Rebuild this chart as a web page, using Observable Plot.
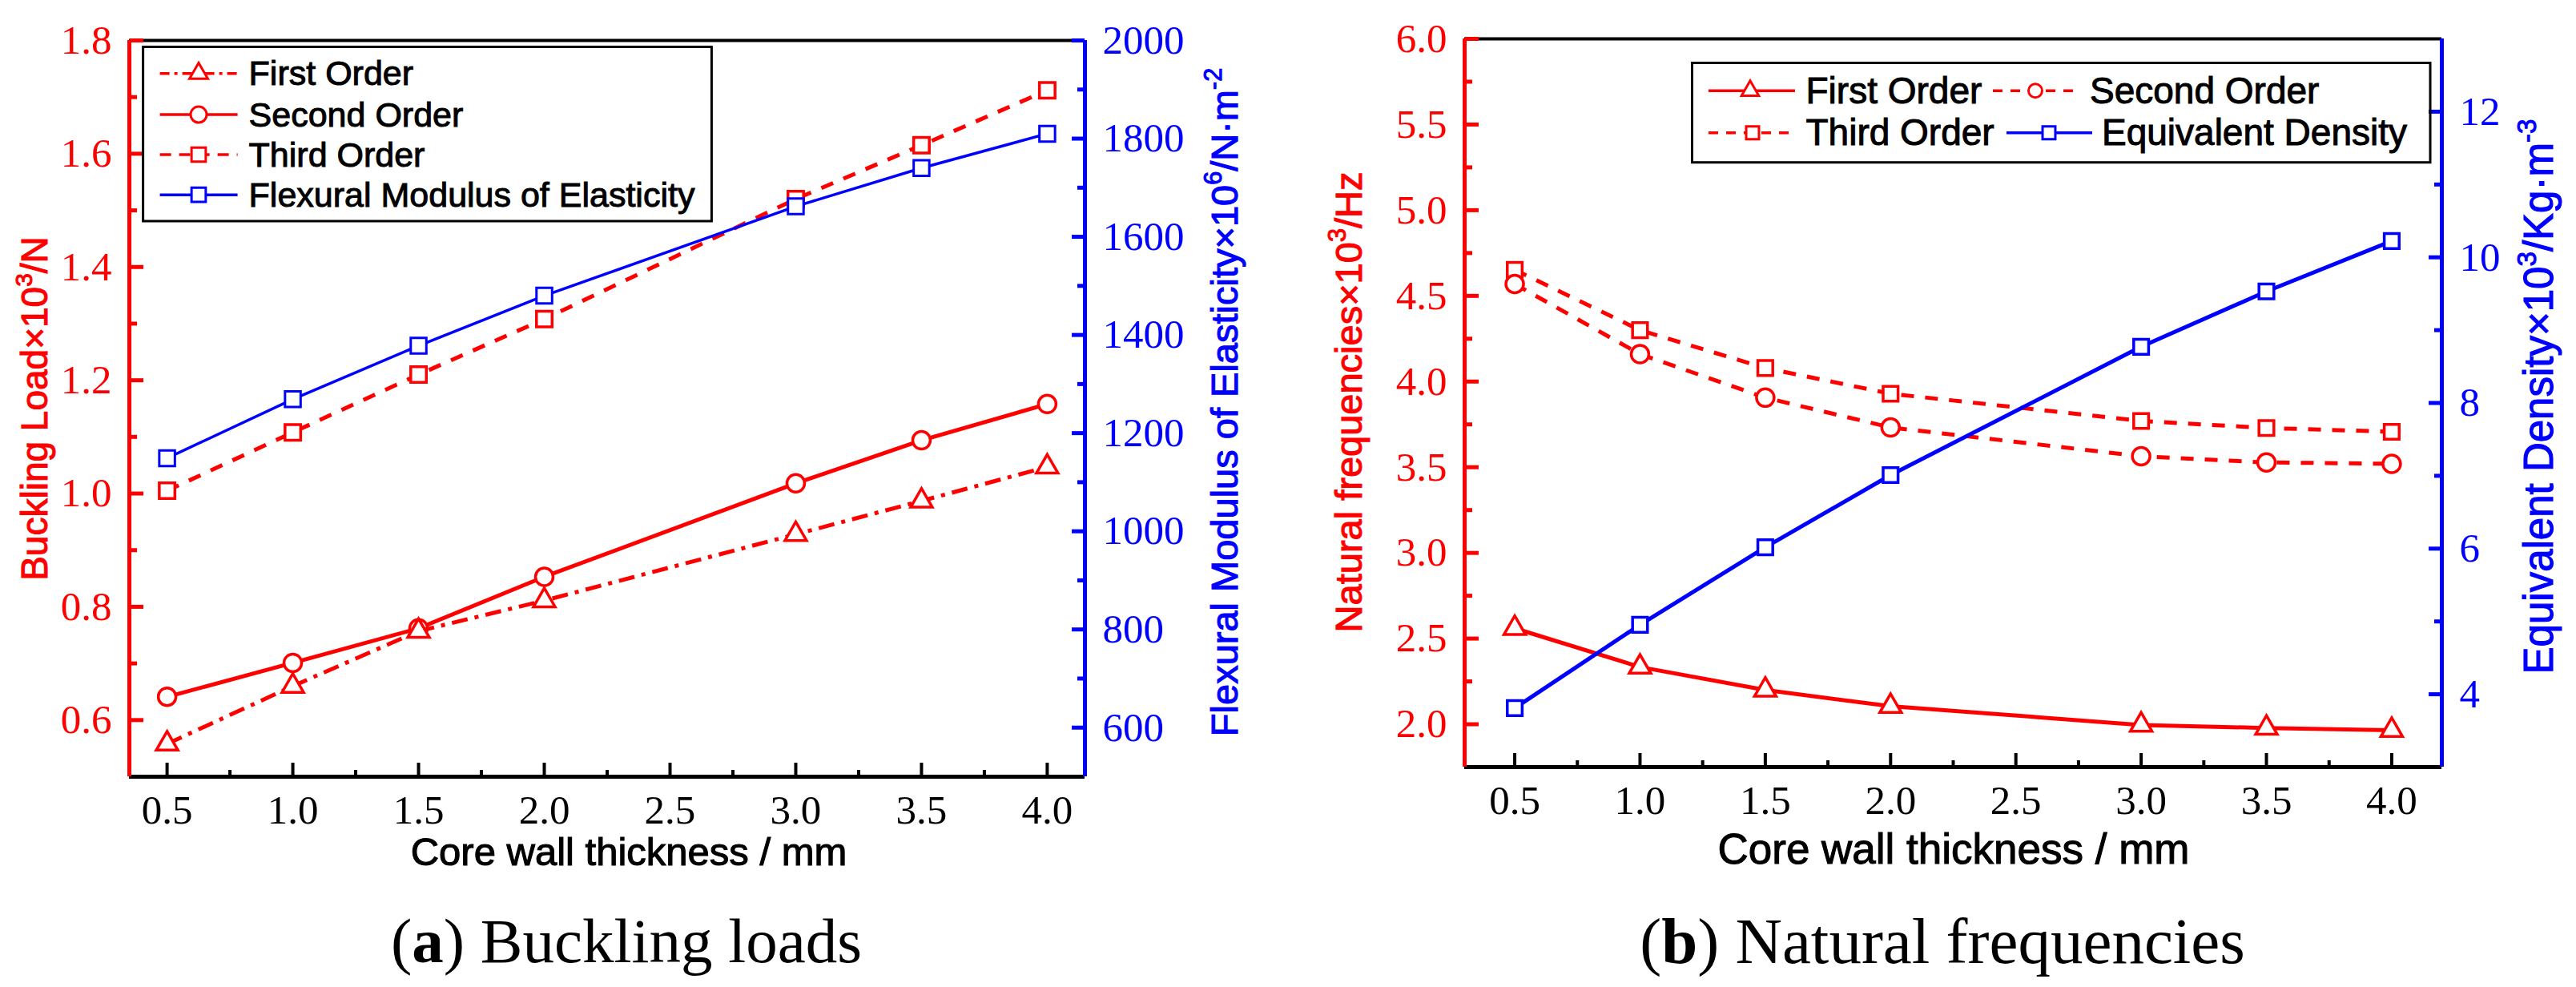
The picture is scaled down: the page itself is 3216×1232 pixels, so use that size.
<!DOCTYPE html>
<html>
<head>
<meta charset="utf-8">
<script src="https://cdn.jsdelivr.net/npm/d3@7"></script>
<script src="https://cdn.jsdelivr.net/npm/@observablehq/plot@0.6"></script>
<style>
  html, body { margin: 0; padding: 0; background: #fff; }
  #root { position: relative; width: 3216px; height: 1232px; overflow: hidden; background: #fff; }
  #root > svg { position: absolute; top: 0; }
</style>
</head>
<body>
<div id="root"></div>
<script>
// ---------------- DATA ----------------
const thickness = [0.5, 1.0, 1.5, 2.0, 3.0, 3.5, 4.0];

// (a) Buckling loads (x10^3 N) and flexural modulus (x10^6 N/m^2)
const bucklingFirst  = [0.558, 0.660, 0.757, 0.811, 0.928, 0.987, 1.047];
const bucklingSecond = [0.641, 0.701, 0.762, 0.853, 1.018, 1.094, 1.158];
const bucklingThird  = [1.005, 1.108, 1.210, 1.308, 1.520, 1.615, 1.712];
const flexuralModulus = [1149, 1269, 1378, 1480, 1662, 1740, 1810];

// (b) Natural frequencies (x10^3 Hz) and equivalent density (x10^3 kg/m^3)
const freqFirst  = [2.560, 2.334, 2.200, 2.105, 1.996, 1.978, 1.965];
const freqSecond = [4.569, 4.160, 3.906, 3.732, 3.564, 3.528, 3.520];
const freqThird  = [4.652, 4.300, 4.079, 3.929, 3.770, 3.729, 3.707];
const equivDensity = [3.81, 4.954, 6.018, 7.010, 8.772, 9.532, 10.224];

// ticks
const xTicks = [0.5, 1.0, 1.5, 2.0, 2.5, 3.0, 3.5, 4.0];
const xMinorTicks = [0.75, 1.25, 1.75, 2.25, 2.75, 3.25, 3.75];
const loadTicks = [0.6, 0.8, 1.0, 1.2, 1.4, 1.6, 1.8];
const loadMinorTicks = [0.7, 0.9, 1.1, 1.3, 1.5, 1.7];
const modulusTicks = [600, 800, 1000, 1200, 1400, 1600, 1800, 2000];
const modulusMinorTicks = [700, 900, 1100, 1300, 1500, 1700, 1900];
const freqTicks = [2.0, 2.5, 3.0, 3.5, 4.0, 4.5, 5.0, 5.5, 6.0];
const freqMinorTicks = [2.25, 2.75, 3.25, 3.75, 4.25, 4.75, 5.25, 5.75];
const densityTicks = [4, 6, 8, 10, 12];
const densityMinorTicks = [5, 7, 9, 11];

// axis domains
const xDomainA = [0.35, 4.15];
const loadDomain = [0.5, 1.8];
const modulusDomain = [500, 2000];
const xDomainB = [0.3, 4.2];
const freqDomain = [1.75, 6.0];
const densityDomain = [3, 13];

// ---------------- STYLE / LAYOUT ----------------
const RED = "#ff0000", BLUE = "#0000ff";
const W = 1608, H = 1100;
const SERIF = "'Liberation Serif', 'Times New Roman', serif";
const SANS = "'Liberation Sans', Arial, sans-serif";
const DASH = "16,14";
const DASHDOT = "20,9,5,9";
const layoutA = {left: 0, marginLeft: 161, marginRight: 254, marginTop: 50, marginBottom: 131};
const layoutB = {left: 1608, marginLeft: 220, marginRight: 168, marginTop: 48, marginBottom: 143};
const baseStyle = {fontFamily: SERIF, fontSize: "51px", background: "transparent", color: "black", overflow: "visible"};

const rowsA = thickness.map((t, i) => ({t, first: bucklingFirst[i], second: bucklingSecond[i], third: bucklingThird[i], modulus: flexuralModulus[i]}));
const rowsB = thickness.map((t, i) => ({t, first: freqFirst[i], second: freqSecond[i], third: freqThird[i], density: equivDensity[i]}));

function seriesMarks(rows, key, {color, dash, width, symbol, r, markerWidth}) {
  return [
    Plot.line(rows, {x: "t", y: key, stroke: color, strokeWidth: width, strokeDasharray: dash, strokeLinecap: "butt"}),
    Plot.dot(rows, {x: "t", y: key, symbol, r, stroke: color, fill: "white", strokeWidth: markerWidth})
  ];
}

function leftPlot(layout, xDomain, yDomain, yTicks, yMinor, yFormat, series) {
  return Plot.plot({
    width: W, height: H,
    marginLeft: layout.marginLeft, marginRight: layout.marginRight,
    marginTop: layout.marginTop, marginBottom: layout.marginBottom,
    x: {domain: xDomain},
    y: {domain: yDomain},
    style: baseStyle,
    marks: [
      Plot.ruleY([yDomain[1]], {stroke: "black", strokeWidth: 4}),
      Plot.axisX({ticks: xTicks, anchor: "top", frameAnchor: "bottom", tickSize: 18, fill: "none", stroke: "black", strokeWidth: 4, label: null}),
      Plot.axisX({ticks: xMinorTicks, anchor: "top", frameAnchor: "bottom", tickSize: 9, fill: "none", stroke: "black", strokeWidth: 4, label: null}),
      Plot.axisX({ticks: xTicks, anchor: "bottom", tickSize: 0, tickPadding: 22, tickFormat: d3.format(".1f"), fill: "black", stroke: "none", label: null}),
      Plot.ruleY([yDomain[0]], {stroke: "black", strokeWidth: 5}),
      Plot.axisY({ticks: yTicks, anchor: "right", frameAnchor: "left", tickSize: 17, fill: "none", stroke: RED, strokeWidth: 5, label: null}),
      Plot.axisY({ticks: yMinor, anchor: "right", frameAnchor: "left", tickSize: 9, fill: "none", stroke: RED, strokeWidth: 5, label: null}),
      Plot.axisY({ticks: yTicks, anchor: "left", tickSize: 0, tickPadding: 22, tickFormat: yFormat, fill: RED, stroke: "none", label: null}),
      Plot.ruleX([xDomain[0]], {stroke: RED, strokeWidth: 5}),
      ...series
    ]
  });
}

function rightPlot(layout, xDomain, yDomain, yTicks, yMinor, yFormat, series) {
  return Plot.plot({
    width: W, height: H,
    marginLeft: layout.marginLeft, marginRight: layout.marginRight,
    marginTop: layout.marginTop, marginBottom: layout.marginBottom,
    x: {domain: xDomain, axis: null},
    y: {domain: yDomain},
    style: baseStyle,
    marks: [
      Plot.ruleX([xDomain[1]], {stroke: BLUE, strokeWidth: 5}),
      Plot.axisY({ticks: yTicks, anchor: "left", frameAnchor: "right", tickSize: 16, fill: "none", stroke: BLUE, strokeWidth: 5, label: null}),
      Plot.axisY({ticks: yMinor, anchor: "left", frameAnchor: "right", tickSize: 9, fill: "none", stroke: BLUE, strokeWidth: 5, label: null}),
      Plot.axisY({ticks: yTicks, anchor: "right", tickSize: 0, tickPadding: 22, tickFormat: yFormat, fill: BLUE, stroke: "none", label: null}),
      ...series
    ]
  });
}

const root = document.getElementById("root");
function place(svg, left) { svg.style.left = left + "px"; svg.style.top = "0px"; root.append(svg); }

// Panel (a)
place(leftPlot(layoutA, xDomainA, loadDomain, loadTicks, loadMinorTicks, d3.format(".1f"), [
  ...seriesMarks(rowsA, "third",  {color: RED, dash: DASH, width: 5, symbol: "square", r: 11, markerWidth: 3.5}),
  ...seriesMarks(rowsA, "second", {color: RED, dash: null, width: 5, symbol: "circle", r: 11, markerWidth: 3.5}),
  ...seriesMarks(rowsA, "first",  {color: RED, dash: DASHDOT, width: 5, symbol: "triangle", r: 10, markerWidth: 3.5})
]), layoutA.left);
place(rightPlot(layoutA, xDomainA, modulusDomain, modulusTicks, modulusMinorTicks, d3.format("d"), [
  ...seriesMarks(rowsA, "modulus", {color: BLUE, dash: null, width: 3.5, symbol: "square", r: 11, markerWidth: 3})
]), layoutA.left);

// Panel (b)
place(leftPlot(layoutB, xDomainB, freqDomain, freqTicks, freqMinorTicks, d3.format(".1f"), [
  ...seriesMarks(rowsB, "third",  {color: RED, dash: DASH, width: 5, symbol: "square", r: 10.5, markerWidth: 3.5}),
  ...seriesMarks(rowsB, "second", {color: RED, dash: DASH, width: 5, symbol: "circle", r: 11, markerWidth: 3.5}),
  ...seriesMarks(rowsB, "first",  {color: RED, dash: null, width: 5, symbol: "triangle", r: 10, markerWidth: 3.5})
]), layoutB.left);
place(rightPlot(layoutB, xDomainB, densityDomain, densityTicks, densityMinorTicks, d3.format("d"), [
  ...seriesMarks(rowsB, "density", {color: BLUE, dash: null, width: 5, symbol: "square", r: 10.5, markerWidth: 3.5})
]), layoutB.left);

// ---------------- TEXT & LEGENDS OVERLAY ----------------
const over = d3.create("svg").attr("width", 3216).attr("height", 1232)
  .style("left", "0px").style("top", "0px").style("pointer-events", "none");

function richText(parent, parts, {x, y, rotate = 0, size, color = "black", family = SANS, anchor = "middle", heavy = 1.1}) {
  const t = parent.append("text")
    .attr("transform", `translate(${x},${y}) rotate(${rotate})`)
    .attr("text-anchor", anchor)
    .attr("font-family", family)
    .attr("font-size", size)
    .attr("fill", color)
    .attr("stroke", heavy ? color : "none")
    .attr("stroke-width", heavy);
  let shift = 0;
  for (const p of parts) {
    const s = t.append("tspan").text(p.t);
    if (p.sup) {
      s.attr("font-size", size * 0.65).attr("dy", -size * 0.42 - shift);
      shift = -size * 0.42;
    } else {
      s.attr("font-size", size);
      if (shift) { s.attr("dy", -shift); shift = 0; }
    }
    if (p.bold) s.attr("font-weight", "bold");
  }
  return t;
}

// axis titles
richText(over, [{t: "Buckling Load×10"}, {t: "3", sup: true}, {t: "/N"}], {x: 59, y: 510, rotate: -90, size: 46, color: RED});
richText(over, [{t: "Flexural Modulus of Elasticity×10"}, {t: "6", sup: true}, {t: "/N·m"}, {t: "-2", sup: true}], {x: 1545, y: 502, rotate: -90, size: 47, color: BLUE});
richText(over, [{t: "Natural frequencies×10"}, {t: "3", sup: true}, {t: "/Hz"}], {x: 1700, y: 502, rotate: -90, size: 47, color: RED});
richText(over, [{t: "Equivalent Density×10"}, {t: "3", sup: true}, {t: "/Kg·m"}, {t: "-3", sup: true}], {x: 3187, y: 495, rotate: -90, size: 51, color: BLUE});
richText(over, [{t: "Core wall thickness / mm"}], {x: 785, y: 1080, size: 49});
richText(over, [{t: "Core wall thickness / mm"}], {x: 2439, y: 1078, size: 53});

// captions
richText(over, [{t: "("}, {t: "a", bold: true}, {t: ") Buckling loads"}], {x: 782, y: 1201, size: 79, family: SERIF, heavy: 0});
richText(over, [{t: "("}, {t: "b", bold: true}, {t: ") Natural frequencies"}], {x: 2425, y: 1202, size: 81, family: SERIF, heavy: 0});

// legends
function legendItem(parent, {x0, x1, xm, y, color, dash, width, symbol, r, label, tx, size}) {
  parent.append("line").attr("x1", x0).attr("x2", x1).attr("y1", y).attr("y2", y)
    .attr("stroke", color).attr("stroke-width", width).attr("stroke-dasharray", dash || null);
  parent.append("path").attr("d", d3.symbol(symbol, Math.PI * r * r)())
    .attr("transform", `translate(${xm},${y})`)
    .attr("fill", "white").attr("stroke", color).attr("stroke-width", 3);
  richText(parent, [{t: label}], {x: tx, y: y + size * 0.34, size, anchor: "start", heavy: 1});
}

over.append("rect").attr("x", 178.6).attr("y", 58.5).attr("width", 709.8).attr("height", 217.5)
  .attr("fill", "none").attr("stroke", "black").attr("stroke-width", 3);
const legA = [
  {label: "First Order", color: RED, dash: "12,6,4,6", symbol: d3.symbolTriangle, r: 8.5, y: 91.7},
  {label: "Second Order", color: RED, dash: null, symbol: d3.symbolCircle, r: 10, y: 143.1},
  {label: "Third Order", color: RED, dash: "14,10", symbol: d3.symbolSquare, r: 10, y: 193},
  {label: "Flexural Modulus of Elasticity", color: BLUE, dash: null, symbol: d3.symbolSquare, r: 10, y: 243.2}
];
for (const d of legA) legendItem(over, {x0: 199.6, x1: 296.6, xm: 248, width: 3.5, tx: 310.6, size: 43, ...d});

over.append("rect").attr("x", 2112.5).attr("y", 78.5).attr("width", 921.5).attr("height", 124.2)
  .attr("fill", "none").attr("stroke", "black").attr("stroke-width", 3);
const legB = [
  {label: "First Order", color: RED, dash: null, symbol: d3.symbolTriangle, r: 8, x0: 2133, x1: 2241, xm: 2185, tx: 2254.5, y: 113.3},
  {label: "Second Order", color: RED, dash: "12,10", symbol: d3.symbolCircle, r: 8.5, x0: 2488, x1: 2590, xm: 2541, tx: 2609, y: 113.3},
  {label: "Third Order", color: RED, dash: "12,10", symbol: d3.symbolSquare, r: 9, x0: 2133, x1: 2236, xm: 2188, tx: 2254.5, y: 165.7},
  {label: "Equivalent Density", color: BLUE, dash: null, symbol: d3.symbolSquare, r: 9, x0: 2505, x1: 2612, xm: 2558, tx: 2624, y: 165.7}
];
for (const d of legB) legendItem(over, {width: 3.5, size: 46, ...d});

root.append(over.node());
</script>
</body>
</html>
